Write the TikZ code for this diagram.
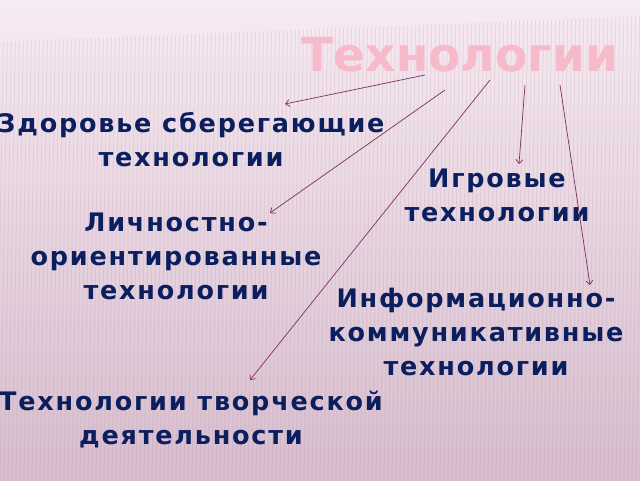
\documentclass[tikz,border=0pt]{standalone}
\usepackage{fontspec}
\setmainfont{DejaVu Sans}
\newfontfamily\techfont[LetterSpace=7]{DejaVu Sans Bold}
\newfontfamily\headfont{DejaVu Sans Bold}
\usetikzlibrary{positioning, arrows.meta}
\definecolor{bgtop}{HTML}{F7EBF2}
\definecolor{bgbot}{HTML}{D8BDCE}
\definecolor{stripe}{HTML}{A88FA2}
\definecolor{navy}{HTML}{0B1F5E}
\definecolor{titlepink}{HTML}{F6BACA}
\definecolor{arrowcol}{HTML}{7E2E58}

\begin{document}
\begin{tikzpicture}[
      x=1pt, y=-1pt,
      techtext/.style={
        text=navy,
        font=\techfont\fontsize{25.5}{34}\selectfont,
        align=center,
        inner sep=0pt
      },
      headtext/.style={
        text=titlepink,
        font=\headfont\fontsize{47}{50}\selectfont,
        inner sep=0pt
      },
      every edge/.style={draw=arrowcol, line width=0.7pt, -{Straight Barb[length=4pt, width=7pt]}}
    ]
    \useasboundingbox (0,0) rectangle (640,480);
    % background
    \fill[top color=bgtop, bottom color=bgbot] (0,0) rectangle (640,480);
    \begin{scope}
      \clip (0,42) -- (640,16) -- (640,480) -- (0,480) -- cycle;
      \foreach \x in {0,4,...,648}
        \draw[stripe, opacity=.18, line width=1pt] (\x,0) -- (\x-8,480);
    \end{scope}

    \node[headtext] (tech) at (460,55) {Технологии};
    \node[techtext] (zdor) at (191,140) {Здоровье сберегающие\\технологии};
    \node[techtext] (igr) at (497,195) {Игровые\\технологии};
    \node[techtext] (lich) at (176,256) {Личностно-\\ориентированные\\технологии};
    \node[techtext] (info) at (476,332) {Информационно-\\коммуникативные\\технологии};
    \node[techtext] (tvor) at (191,420) {Технологии творческой\\деятельности};

    \coordinate (s1) at (425,75);
    \coordinate (s2) at (445,90);
    \coordinate (s3) at (490,80);
    \coordinate (s4) at (525,85);
    \coordinate (s5) at (560,85);
    \coordinate (e1) at (285,104);
    \coordinate (e2) at (270,213);
    \coordinate (e3) at (250,380);
    \coordinate (e4) at (519,164);
    \coordinate (e5) at (590,285);

    \path (s1) edge (e1)
          (s2) edge (e2)
          (s3) edge (e3)
          (s4) edge (e4)
          (s5) edge (e5);
  \end{tikzpicture}
\end{document}
